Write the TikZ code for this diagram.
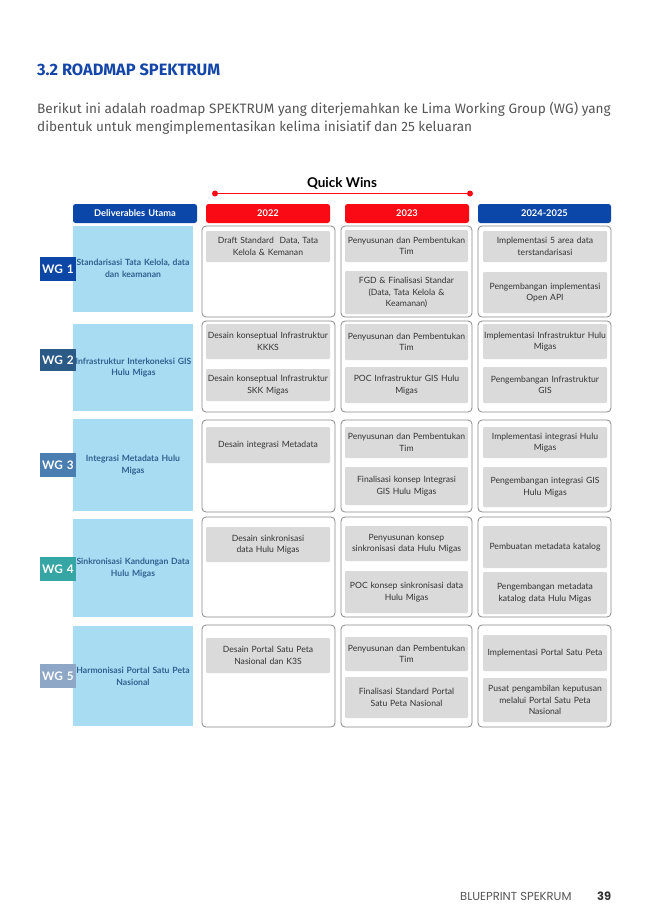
\documentclass[tikz,border=0pt]{standalone}
\usepackage{fontspec}
\setmainfont{Lato}
\newfontfamily\titlefont{Fira Sans}
\newfontfamily\bodyfont{Fira Sans}
\newfontfamily\footfont{Poppins}
\definecolor{hdrblue}{HTML}{0B47A8}
\definecolor{hdrred}{HTML}{FA0A14}
\definecolor{lightblue}{HTML}{A8DCF2}
\definecolor{wgA}{HTML}{0D47A6}
\definecolor{wgB}{HTML}{2B5A86}
\definecolor{wgC}{HTML}{4A7DB0}
\definecolor{wgD}{HTML}{36A6A4}
\definecolor{wgE}{HTML}{8EA7C7}
\definecolor{itemgray}{HTML}{DADADA}
\definecolor{outlinegray}{HTML}{8A8A8A}
\definecolor{bluetext}{HTML}{2F6190}
\definecolor{titleblue}{HTML}{1446A9}
\definecolor{bodygray}{HTML}{555555}
\definecolor{textdark}{HTML}{333333}
\newcommand{\bx}[7]{%
  \pgfmathsetmacro\bxw{#5-#3}%
  \pgfmathsetmacro\bxh{#6-#4}%
  \pgfmathsetmacro\bxcx{(#3+#5)/2}%
  \pgfmathsetmacro\bxcy{(#4+#6)/2}%
  \node[#2, minimum width=\bxw pt, minimum height=\bxh pt, text width=\bxw pt] (#1) at (\bxcx,\bxcy) {#7};%
}
\tikzset{
  base/.style={inner sep=0pt, outer sep=0pt, align=center},
  hdr/.style={base, rounded corners=2.5pt, text=white, font=\bfseries\fontsize{9.3}{11}\selectfont},
  blubox/.style={base, fill=lightblue},
  rowbox/.style={base, draw=outlinegray, line width=0.8pt, rounded corners=4pt},
  item/.style={base, fill=itemgray, rounded corners=1.2pt, text=textdark, font=\fontsize{8.6}{11.4}\selectfont},
  wglabel/.style={base, text=white, font=\bfseries\fontsize{11.8}{14}\selectfont},
  wgtext/.style={base, text=bluetext, text width=122pt, font=\bfseries\fontsize{8.6}{11.8}\selectfont},
  reddot/.style={circle, fill=hdrred, inner sep=0pt, minimum size=6pt},
}
\begin{document}
\begin{tikzpicture}[x=1pt,y=-1pt]
\fill[white] (0,0) rectangle (652,922);
\useasboundingbox (0,0) rectangle (652,922);

% title and intro
\node[anchor=west, inner sep=0pt, text=titleblue, font=\titlefont\bfseries\fontsize{16.4}{18}\selectfont] (title) at (37,70) {3.2 ROADMAP SPEKTRUM};
\node[anchor=north west, inner sep=0pt, align=left, text=bodygray, font=\bodyfont\fontsize{13.6}{18}\selectfont] (intro) at (37,101.5)
 {Berikut ini adalah roadmap SPEKTRUM yang diterjemahkan ke Lima Working Group (WG) yang\\dibentuk untuk mengimplementasikan kelima inisiatif dan 25 keluaran};

% quick wins
\node[inner sep=0pt, font=\bfseries\fontsize{13.5}{15}\selectfont] (qw) at (342,183) {Quick Wins};
\node[reddot] (qs) at (215,193.5) {};
\node[reddot] (qe) at (470,193.5) {};
\draw[hdrred, line width=1.3pt] (qs) -- (qe);

% headers
\bx{hdel}{hdr, fill=hdrblue}{73}{204}{197}{223}{Deliverables Utama}
\bx{h22}{hdr, fill=hdrred}{206}{204}{330}{223}{2022}
\bx{h23}{hdr, fill=hdrred}{345}{204}{469}{223}{2023}
\bx{h24}{hdr, fill=hdrblue}{478}{204}{611}{223}{2024-2025}

% blue deliverable boxes
\bx{b1}{blubox}{73}{226}{193}{312}{}
\bx{b2}{blubox}{73}{324}{193}{411}{}
\bx{b3}{blubox}{73}{419}{193}{511}{}
\bx{b4}{blubox}{73}{519}{193}{617}{}
\bx{b5}{blubox}{73}{626}{193}{726}{}

% WG labels
\bx{l1}{wglabel, fill=wgA}{40}{257}{76}{281}{WG 1}
\bx{l2}{wglabel, fill=wgB}{40}{349}{76}{371}{WG 2}
\bx{l3}{wglabel, fill=wgC}{40}{453}{76}{477}{WG 3}
\bx{l4}{wglabel, fill=wgD}{40}{557}{76}{581}{WG 4}
\bx{l5}{wglabel, fill=wgE}{40}{664}{76}{688}{WG 5}

\node[wgtext] (t1) at (133,268) {Standarisasi Tata Kelola, data\\dan keamanan};
\node[wgtext] (t2) at (133.5,367.5) {Infrastruktur Interkoneksi GIS\\Hulu Migas};
\node[wgtext] (t3) at (133,465) {Integrasi Metadata Hulu\\Migas};
\node[wgtext] (t4) at (133,568) {Sinkronisasi Kandungan Data\\Hulu Migas};
\node[wgtext] (t5) at (133,676) {Harmonisasi Portal Satu Peta\\Nasional};

% row outlines
\bx{r1a}{rowbox}{202}{226}{335}{317}{}
\bx{r1b}{rowbox}{341}{226}{472}{317}{}
\bx{r1c}{rowbox}{478}{226}{611}{317}{}
\bx{r2a}{rowbox}{202}{321}{335}{412}{}
\bx{r2b}{rowbox}{341}{321}{472}{412}{}
\bx{r2c}{rowbox}{478}{321}{611}{412}{}
\bx{r3a}{rowbox}{202}{420}{335}{512}{}
\bx{r3b}{rowbox}{341}{420}{472}{512}{}
\bx{r3c}{rowbox}{478}{420}{611}{512}{}
\bx{r4a}{rowbox}{202}{517}{335}{617}{}
\bx{r4b}{rowbox}{341}{517}{472}{617}{}
\bx{r4c}{rowbox}{478}{517}{611}{617}{}
\bx{r5a}{rowbox}{202}{625}{335}{727}{}
\bx{r5b}{rowbox}{341}{625}{472}{727}{}
\bx{r5c}{rowbox}{478}{625}{611}{727}{}

% items row 1
\bx{i1a}{item}{206}{231}{330}{262}{Draft Standard \ Data, Tata\\Kelola \& Kemanan}
\bx{i1b}{item}{345}{230}{468}{262}{Penyusunan dan Pembentukan\\Tim}
\bx{i1c}{item}{345}{271}{468}{314}{FGD \& Finalisasi Standar\\(Data, Tata Kelola \&\\Keamanan)}
\bx{i1d}{item}{483}{231}{607}{262}{Implementasi 5 area data\\terstandarisasi}
\bx{i1e}{item}{483}{272}{607}{313}{Pengembangan implementasi\\Open API}
% row 2
\bx{i2a}{item}{206}{324}{330}{359}{Desain konseptual Infrastruktur\\KKKS}
\bx{i2b}{item}{206}{369}{330}{401}{Desain konseptual Infrastruktur\\SKK Migas}
\bx{i2c}{item}{345}{324}{468}{360}{Penyusunan dan Pembentukan\\Tim}
\bx{i2d}{item}{345}{367}{468}{403}{POC Infrastruktur GIS Hulu\\Migas}
\bx{i2e}{item}{483}{324}{607}{359}{Implementasi Infrastruktur Hulu\\Migas}
\bx{i2f}{item}{483}{367}{607}{403}{Pengembangan Infrastruktur\\GIS}
% row 3
\bx{i3a}{item}{206}{427}{330}{463}{Desain integrasi Metadata}
\bx{i3b}{item}{345}{427}{468}{458}{Penyusunan dan Pembentukan\\Tim}
\bx{i3c}{item}{345}{467}{468}{505}{Finalisasi konsep Integrasi\\GIS Hulu Migas}
\bx{i3d}{item}{483}{427}{607}{458}{Implementasi integrasi Hulu\\Migas}
\bx{i3e}{item}{483}{467}{607}{507}{Pengembangan integrasi GIS\\Hulu Migas}
% row 4
\bx{i4a}{item}{206}{527}{330}{562}{Desain sinkronisasi\\data Hulu Migas}
\bx{i4b}{item}{345}{526}{468}{561}{Penyusunan konsep\\sinkronisasi data Hulu Migas}
\bx{i4c}{item}{345}{571}{468}{613}{POC konsep sinkronisasi data\\Hulu Migas}
\bx{i4d}{item}{483}{526}{607}{568}{Pembuatan metadata katalog}
\bx{i4e}{item}{483}{572}{607}{614}{Pengembangan metadata\\katalog data Hulu Migas}
% row 5
\bx{i5a}{item}{206}{638}{330}{673}{Desain Portal Satu Peta\\Nasional dan K3S}
\bx{i5b}{item}{345}{637}{468}{671}{Penyusunan dan Pembentukan\\Tim}
\bx{i5c}{item}{345}{677}{468}{718}{Finalisasi Standard Portal\\Satu Peta Nasional}
\bx{i5d}{item}{483}{635}{607}{671}{Implementasi Portal Satu Peta}
\bx{i5e}{item}{483}{678}{607}{722}{Pusat pengambilan keputusan\\melalui Portal Satu Peta\\Nasional}

% footer
\node[anchor=west, inner sep=0pt, text=bodygray, font=\footfont\fontsize{11.6}{12}\selectfont] (foot) at (460,896) {BLUEPRINT SPEKRUM};
\node[anchor=west, inner sep=0pt, text=textdark, font=\footfont\bfseries\fontsize{11.5}{12}\selectfont] (pg) at (597,896) {39};
\end{tikzpicture}
\end{document}
